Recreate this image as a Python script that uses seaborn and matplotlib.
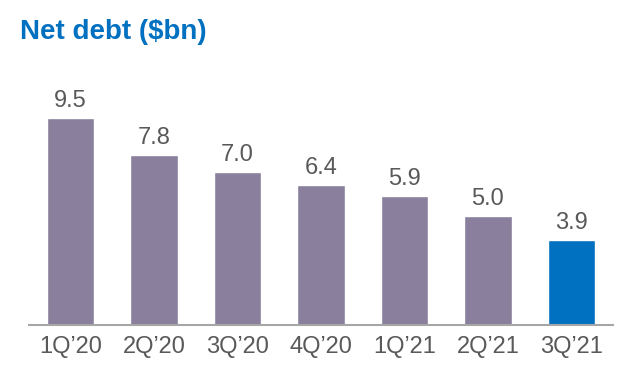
import matplotlib
matplotlib.use("Agg")
from matplotlib import pyplot as plt
import seaborn as sns

sns.set_style("white")
plt.rcParams['font.family'] = ['Liberation Sans', 'DejaVu Sans']

# Data
quarters = ["1Q\u201920", "2Q\u201920", "3Q\u201920", "4Q\u201920", "1Q\u201921", "2Q\u201921", "3Q\u201921"]
net_debt = [9.5, 7.8, 7.0, 6.4, 5.9, 5.0, 3.9]
bar_colors = ["#8A7F9C"] * 6 + ["#0070C0"]

fig = plt.figure(figsize=(6.25, 3.68), dpi=100)
ax = fig.add_axes([29 / 625, 1 - 325 / 368, 584 / 625, 229 / 368])

sns.barplot(x=quarters, y=net_debt, hue=quarters, palette=bar_colors,
            legend=False, width=0.57, saturation=1, ax=ax)

for c in ax.containers:
    ax.bar_label(c, fmt="%.1f", padding=4.5, fontsize=17, color="#595959")

ax.set_ylim(0, 10.5)
ax.set_xlim(-0.5, 6.5)
ax.set_yticks([])
ax.set_xlabel("")
ax.set_ylabel("")
ax.tick_params(axis="x", length=0, pad=8, labelsize=17, labelcolor="#595959")
for s in ["top", "right", "left"]:
    ax.spines[s].set_visible(False)
ax.spines["bottom"].set_color("#A6A6A6")
ax.spines["bottom"].set_linewidth(1.5)

fig.text(20 / 625, 1 - 39 / 368, "Net debt ($bn)", fontsize=20, fontweight="bold",
         color="#0070C0", va="baseline", ha="left")

fig.savefig("out.png", dpi=100)
